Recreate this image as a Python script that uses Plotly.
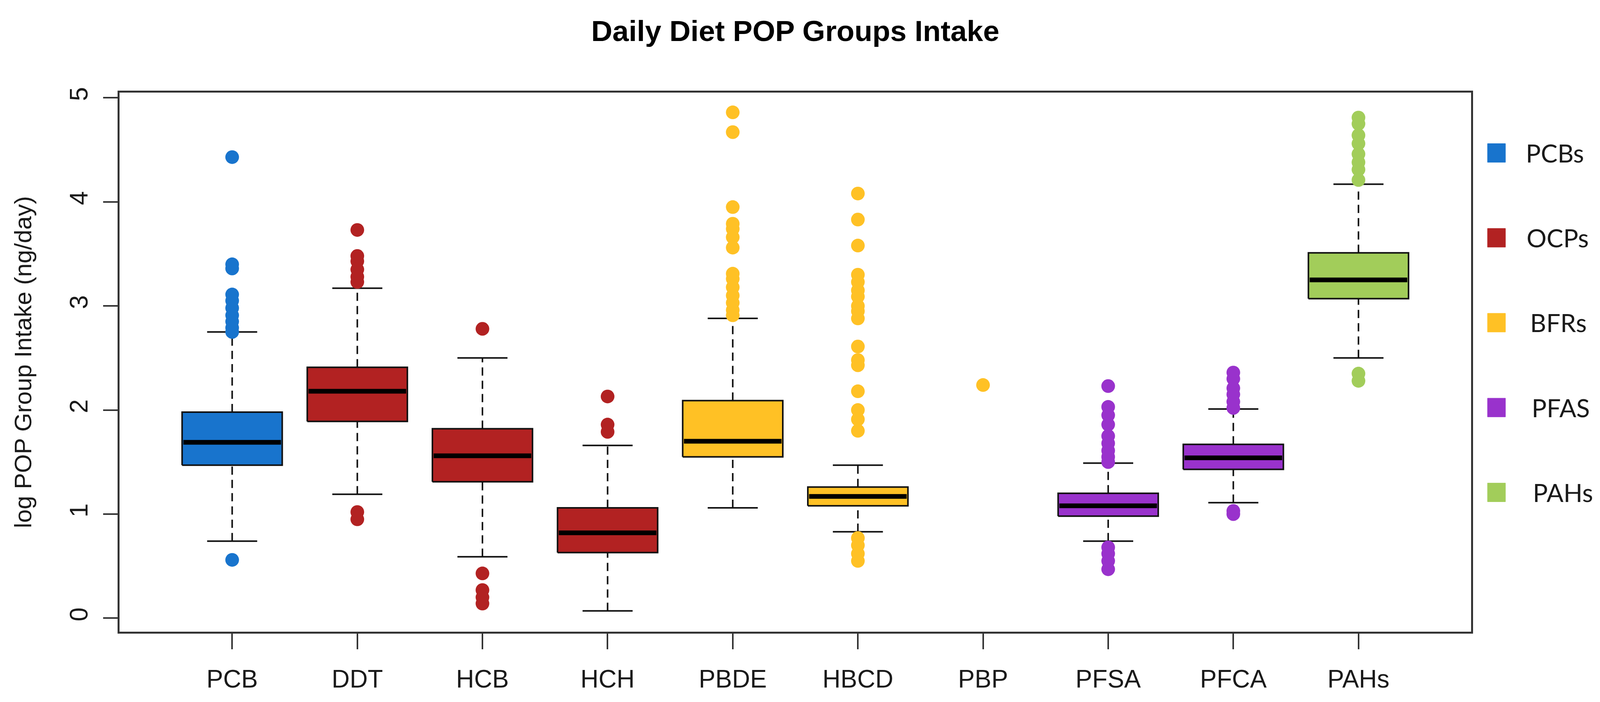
import plotly.graph_objects as go

# categories on the x axis and the POP group each one belongs to
categories = ["PCB", "DDT", "HCB", "HCH", "PBDE", "HBCD", "PBP", "PFSA", "PFCA", "PAHs"]
groups = ["PCBs", "OCPs", "OCPs", "OCPs", "BFRs", "BFRs", "BFRs", "PFAS", "PFAS", "PAHs"]

# box statistics, log ng/day (PBP has a single value only)
whisker_low = [0.74, 1.19, 0.59, 0.07, 1.06, 0.83, None, 0.74, 1.11, 2.50]
q1 = [1.47, 1.89, 1.31, 0.63, 1.55, 1.08, None, 0.98, 1.43, 3.07]
median = [1.69, 2.18, 1.56, 0.82, 1.70, 1.17, None, 1.08, 1.54, 3.25]
q3 = [1.98, 2.41, 1.82, 1.06, 2.09, 1.26, None, 1.20, 1.67, 3.51]
whisker_high = [2.75, 3.17, 2.50, 1.66, 2.88, 1.47, None, 1.49, 2.01, 4.17]

# outlying points
out_pcb = [4.43, 3.40, 3.36, 3.11, 3.05, 2.98, 2.91, 2.85, 2.79, 2.75, 0.56]
out_ddt = [3.73, 3.48, 3.43, 3.35, 3.28, 3.23, 1.02, 0.95]
out_hcb = [2.78, 0.43, 0.27, 0.20, 0.14]
out_hch = [2.13, 1.86, 1.79]
out_pbde = [4.86, 4.67, 3.95, 3.79, 3.74, 3.66, 3.56, 3.31, 3.26, 3.18,
            3.10, 3.03, 2.96, 2.91]
out_hbcd = [4.08, 3.83, 3.58, 3.30, 3.23, 3.15, 3.09, 3.00, 2.95, 2.88,
            2.61, 2.48, 2.43, 2.18, 2.00, 1.91, 1.80, 0.77, 0.70, 0.62, 0.55]
out_pbp = [2.24]
out_pfsa = [2.23, 2.03, 1.95, 1.86, 1.75, 1.68, 1.61, 1.55, 1.50,
            0.68, 0.62, 0.55, 0.47]
out_pfca = [2.36, 2.30, 2.21, 2.15, 2.08, 2.02, 1.03, 1.00]
out_pahs = [4.81, 4.75, 4.64, 4.56, 4.46, 4.38, 4.31, 4.21, 2.35, 2.28]
outliers = [out_pcb, out_ddt, out_hcb, out_hch, out_pbde, out_hbcd, out_pbp,
            out_pfsa, out_pfca, out_pahs]

legend_labels = ["PCBs", "OCPs", "BFRs", "PFAS", "PAHs"]
legend_colors = ["#1874CD", "#B22222", "#FFC125", "#9932CC", "#A2CD5A"]
color_of = dict(zip(legend_labels, legend_colors))

y_ticks = [0, 1, 2, 3, 4, 5]

R_FONT = "Liberation Sans, Arial, sans-serif"
half_box = 0.4
half_cap = 0.2

fig = go.Figure()

for i, cat in enumerate(categories):
    pos = i + 1
    color = color_of[groups[i]]
    if q1[i] is not None:
        # dashed whiskers
        fig.add_trace(go.Scatter(
            x=[pos, pos, None, pos, pos],
            y=[whisker_low[i], q1[i], None, q3[i], whisker_high[i]],
            mode="lines", line=dict(color="#111111", width=4, dash="21px,13px"),
            hoverinfo="skip", showlegend=False))
        # staples
        fig.add_trace(go.Scatter(
            x=[pos - half_cap, pos + half_cap, None, pos - half_cap, pos + half_cap],
            y=[whisker_low[i], whisker_low[i], None, whisker_high[i], whisker_high[i]],
            mode="lines", line=dict(color="#111111", width=4),
            hoverinfo="skip", showlegend=False))
        # box
        fig.add_trace(go.Scatter(
            x=[pos - half_box, pos + half_box, pos + half_box, pos - half_box, pos - half_box],
            y=[q1[i], q1[i], q3[i], q3[i], q1[i]],
            mode="lines", fill="toself", fillcolor=color,
            line=dict(color="#111111", width=4),
            hoverinfo="skip", showlegend=False))
        # median
        fig.add_trace(go.Scatter(
            x=[pos - half_box + 0.01, pos + half_box - 0.01],
            y=[median[i], median[i]],
            mode="lines", line=dict(color="#000000", width=12),
            hoverinfo="skip", showlegend=False))
    fig.add_trace(go.Scatter(
        x=[pos] * len(outliers[i]), y=outliers[i],
        mode="markers", marker=dict(color=color, size=35, line=dict(width=0)),
        name=cat, showlegend=False))

# legend drawn at the right of the frame
legend_top = 0.888
legend_step = 0.1574
legend_text_shift = [138, 140, 149, 153, 156]
for k, (lab, col) in enumerate(zip(legend_labels, legend_colors)):
    yc = legend_top - k * legend_step
    fig.add_shape(type="rect", xref="paper", yref="paper",
                  xsizemode="pixel", ysizemode="pixel",
                  xanchor=1, yanchor=yc, x0=42, x1=88, y0=-24, y1=24,
                  fillcolor=col, line=dict(color=col, width=1))
    fig.add_annotation(text=lab, xref="paper", yref="paper", x=1, y=yc,
                       xshift=legend_text_shift[k], xanchor="left", yanchor="middle",
                       showarrow=False,
                       font=dict(family="Lato, Noto Sans, sans-serif", size=64,
                                 color="#1a1a1a"))

# y axis title
fig.add_annotation(text="log POP Group Intake (ng/day)", xref="paper", yref="paper",
                   x=0, y=0.5, xshift=-248, textangle=-90, showarrow=False,
                   xanchor="center", yanchor="middle",
                   font=dict(family=R_FONT, size=62, color="#1a1a1a"))

# the browser view is 4096 px wide and the page body adds an 8 px margin
fig.update_layout(
    width=4080, height=1781,
    margin=dict(l=298, r=322, t=229, b=172),
    paper_bgcolor="white", plot_bgcolor="white",
    title=dict(text="<b>Daily Diet POP Groups Intake</b>", x=0.5, xref="paper",
               y=1 - 71 / 1781, yanchor="middle",
               font=dict(family=R_FONT, size=75, color="#000000")),
    xaxis=dict(range=[0.1, 10.9], tickvals=list(range(1, len(categories) + 1)),
               ticktext=categories, ticks="outside", ticklen=40, tickwidth=4,
               tickcolor="#333333", showline=True, linewidth=5, linecolor="#333333",
               mirror=True, showgrid=False, zeroline=False, ticklabelstandoff=21,
               tickfont=dict(family=R_FONT, size=64, color="#1a1a1a")),
    yaxis=dict(range=[-0.13, 5.05], tickvals=y_ticks, tickangle=-90,
               ticks="outside", ticklen=37, tickwidth=4, tickcolor="#333333",
               showline=True, linewidth=5, linecolor="#333333", mirror=True,
               showgrid=False, zeroline=False, ticklabelstandoff=14,
               tickfont=dict(family=R_FONT, size=64, color="#1a1a1a")),
)

fig.write_html("out.html")
